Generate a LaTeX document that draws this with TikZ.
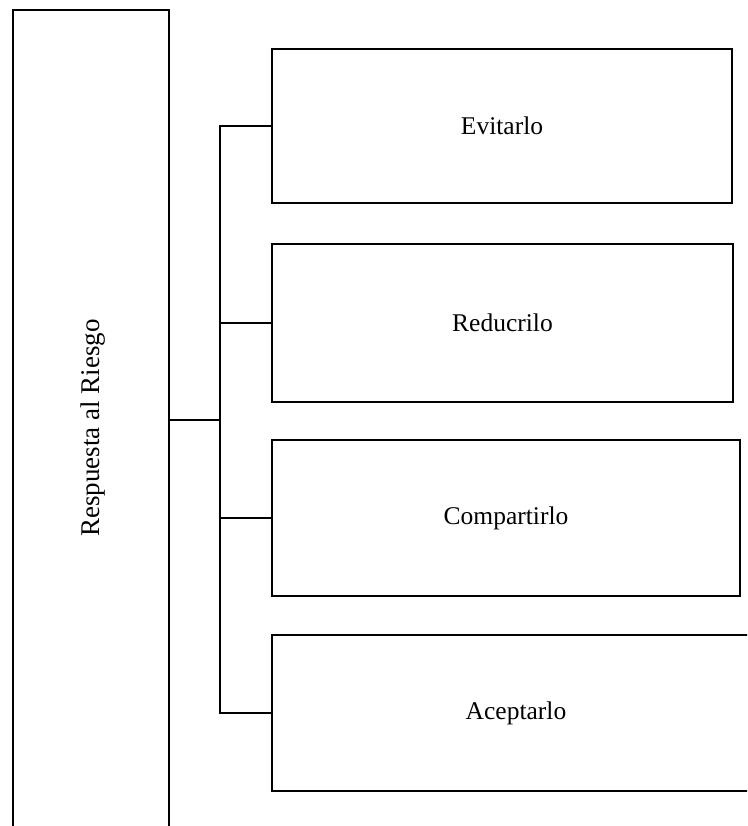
\documentclass[tikz,border=0pt]{standalone}
\usepackage{fontspec}
\setmainfont{Liberation Serif}
\begin{document}
\begin{tikzpicture}[x=1pt,y=-1pt,
  box/.style={draw=black,line width=2.2pt,rectangle,inner sep=0pt,font=\fontsize{25.5}{30}\selectfont},
  conn/.style={draw=black,line width=2.2pt,line join=miter}]
\path[use as bounding box,clip] (0,0) rectangle (747,826);
\node[box,minimum width=156,minimum height=836,anchor=center] (lb) at (91,428) {};
\node[font=\fontsize{27}{30}\selectfont,rotate=90] (lt) at (93,428) {Respuesta al Riesgo};
\node[box,minimum width=460,minimum height=154] (b1) at (502,126) {Evitarlo};
\node[box,minimum width=461,minimum height=158] (b2) at (502.5,323) {Reducrilo};
\node[box,minimum width=468,minimum height=156] (b3) at (506,518) {Compartirlo};
\node[box,minimum width=488,minimum height=156] (b4) at (516,713) {Aceptarlo};
\coordinate (j) at (220,420);
\draw[conn] (lb.east |- j) -- (j);
\draw[conn] (b1.west) -- (b1.west -| j) -- (b4.west -| j) -- (b4.west);
\draw[conn] (b2.west -| j) -- (b2.west);
\draw[conn] (b3.west -| j) -- (b3.west);
\end{tikzpicture}
\end{document}
